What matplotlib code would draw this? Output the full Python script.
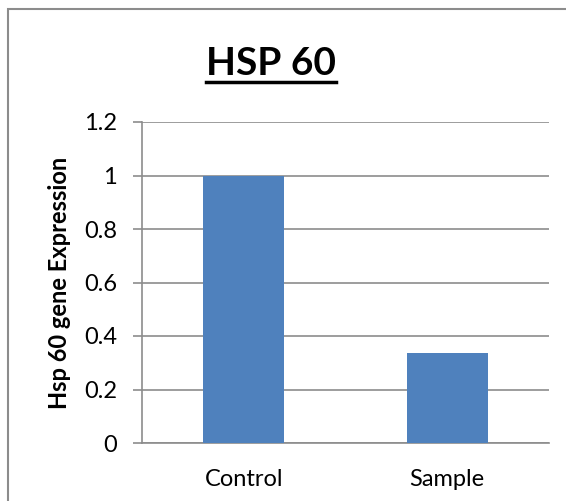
import matplotlib.pyplot as plt
from matplotlib.patches import Rectangle
from matplotlib.lines import Line2D

categories = ["Control", "Sample"]
values = [1.0, 0.336]
yticks = [0, 0.2, 0.4, 0.6, 0.8, 1, 1.2]
ytick_labels = ["0", "0.2", "0.4", "0.6", "0.8", "1", "1.2"]

plt.rcParams['font.family'] = ['Lato', 'DejaVu Sans']

W, H = 566, 501
fig = plt.figure(figsize=(W / 100, H / 100), dpi=100)
ax = fig.add_axes([142 / W, 1 - 443 / H, (549 - 142) / W, (443 - 122) / H])

grid_col = "#8c8c8c"
ax.bar(range(len(categories)), values, width=0.4, color="#4f81bd", zorder=3)
ax.set_xlim(-0.5, 1.5)
ax.set_ylim(0, 1.2)
ax.set_yticks(yticks)
ax.set_yticklabels(ytick_labels)
ax.set_xticks(range(len(categories)))
ax.set_xticklabels(categories)
ax.yaxis.grid(True, color=grid_col, linewidth=1.2, zorder=0)
ax.tick_params(axis='y', length=6.5, width=1.2, color=grid_col, labelsize=17, pad=11.5)
ax.tick_params(axis='x', length=0, labelsize=17, pad=19)
for s in ["top", "right"]:
    ax.spines[s].set_visible(False)
for s in ["left", "bottom"]:
    ax.spines[s].set_color(grid_col)
    ax.spines[s].set_linewidth(1.2)

# label anchor = right edge of the rotated text
ax.set_ylabel("Hsp 60 gene Expression", fontsize=17, fontweight="bold")
ax.yaxis.set_label_coords(-(142 - 71) / (549 - 142), (443 - 282.5) / 321)

# outer chart border (right and bottom edges fall outside the picture)
fig.patches.append(Rectangle((8 / W, -0.1), 1.2, 1 - 9 / H + 0.1, transform=fig.transFigure,
                             fill=False, edgecolor="#8c8c8c", linewidth=1.5))

title = fig.text(271 / W, 1 - 75 / H, "HSP 60", fontsize=28, fontweight="bold",
                 ha="center", va="baseline")
fig.canvas.draw()
bb = title.get_window_extent().transformed(fig.transFigure.inverted())
fig.lines.append(Line2D([bb.x0, bb.x1], [1 - 81.5 / H] * 2, transform=fig.transFigure,
                        color="black", linewidth=2.5))

fig.savefig("out.png", dpi=100)
